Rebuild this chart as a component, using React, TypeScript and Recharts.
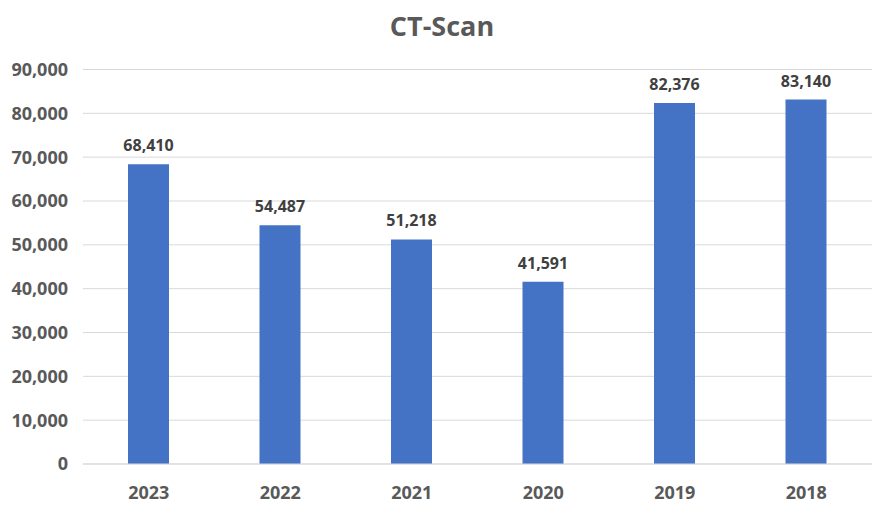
import { BarChart, Bar, XAxis, YAxis, CartesianGrid, LabelList } from "recharts"

const years = ["2023", "2022", "2021", "2020", "2019", "2018"]
const scans = [68410, 54487, 51218, 41591, 82376, 83140]
const yTicks = [0, 10000, 20000, 30000, 40000, 50000, 60000, 70000, 80000, 90000]

const data = years.map((year, i) => ({ year, value: scans[i] }))

const fmt = (v: number) => v.toLocaleString("en-US")
const textColor = "#595959"
const font = "'Open Sans', sans-serif"

export default function App() {
  return (
    <div style={{ position: "absolute", left: 0, top: 0, width: 885, height: 516, background: "#fff", fontFamily: font }}>
      <svg width={885} height={60} style={{ position: "absolute", left: 0, top: 0 }}>
        <text x={442} y={36} textAnchor="middle" fill={textColor} fontSize={27} fontWeight={700} fontFamily={font}>
          CT-Scan
        </text>
      </svg>
      <BarChart
        width={885}
        height={516}
        data={data}
        margin={{ top: 69.5, right: 13, bottom: 0, left: 0 }}
        style={{ position: "absolute", left: 0, top: 0 }}
      >
        <CartesianGrid vertical={false} stroke="#d9d9d9" strokeWidth={1} />
        <XAxis
          dataKey="year"
          height={52}
          axisLine={{ stroke: "#d9d9d9" }}
          tickLine={false}
          tickSize={0}
          tickMargin={22}
          tick={{ fill: textColor, fontSize: 18, fontWeight: 700, fontFamily: font }}
        />
        <YAxis
          width={83}
          domain={[0, 90000]}
          ticks={yTicks}
          axisLine={false}
          tickLine={false}
          tickSize={0}
          tickMargin={15}
          tickFormatter={fmt}
          tick={{ fill: textColor, fontSize: 18, fontWeight: 700, fontFamily: font }}
        />
        <Bar dataKey="value" fill="#4472C4" barSize={41} isAnimationActive={false}>
          <LabelList
            dataKey="value"
            position="top"
            offset={13}
            formatter={(v: any) => fmt(Number(v))}
            fill="#404040"
            fontSize={16}
            fontWeight={700}
            fontFamily={font}
          />
        </Bar>
      </BarChart>
    </div>
  )
}
